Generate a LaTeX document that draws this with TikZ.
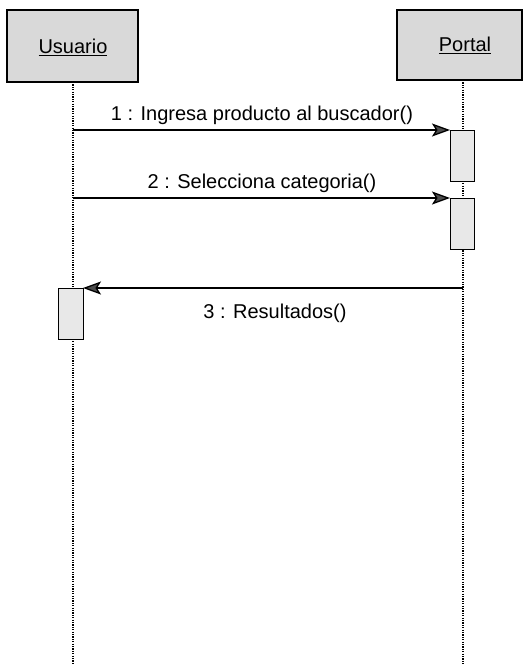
\documentclass[tikz,border=0pt]{standalone}
\usepackage{fontspec}
\setmainfont{Liberation Sans}
\usetikzlibrary{arrows.meta}
\begin{document}
\begin{tikzpicture}[x=1pt,y=-1pt,
  objbox/.style={draw=black,line width=1.2pt,fill=gray!30,inner sep=0pt},
  actbox/.style={draw=black,line width=1pt,fill=gray!18},
  life/.style={black,line width=1.5pt,dash pattern=on 1.2pt off 1.2pt},
  msg/.style={line width=1.3pt,-{Stealth[length=18pt,width=13pt,inset=4pt,fill=gray!60!black]}},
  lbl/.style={font=\fontsize{20}{24}\selectfont,inner sep=0pt}]
\useasboundingbox (0,0) rectangle (523,664);
\fill[white] (0,0) rectangle (523,664);
% lifelines
\coordinate (uTop) at (73,82);
\coordinate (uBot) at (73,664);
\coordinate (pTop) at (463,80);
\coordinate (pBot) at (463,664);
\draw[life] (uTop) -- (uBot);
\draw[life] (pTop) -- (pBot);
% objects
\draw[objbox] (7,10) rectangle (138,82);
\node[lbl] (usuario) at (73,47) {\underline{Usuario}};
\draw[objbox] (397,10) rectangle (522,80);
\node[lbl] (portal) at (465,45) {\underline{Portal}};
% activations
\draw[actbox] (450,130) rectangle (474,181);
\draw[actbox] (450,198) rectangle (474,249);
\draw[actbox] (58,288) rectangle (83,339);
\coordinate (m1s) at (73,130);
\coordinate (m1e) at (450,130);
\coordinate (m2s) at (73,198);
\coordinate (m2e) at (450,198);
\coordinate (m3s) at (463,288);
\coordinate (m3e) at (83,288);
\draw[msg] (m1s) -- (m1e);
\draw[msg] (m2s) -- (m2e);
\draw[msg] (m3s) -- (m3e);
\node[lbl] (l1) at (262,115) {1 : Ingresa producto al buscador()};
\node[lbl] (l2) at (262,183) {2 : Selecciona categoria()};
\node[lbl] (l3) at (275,313) {3 : Resultados()};
\end{tikzpicture}
\end{document}
